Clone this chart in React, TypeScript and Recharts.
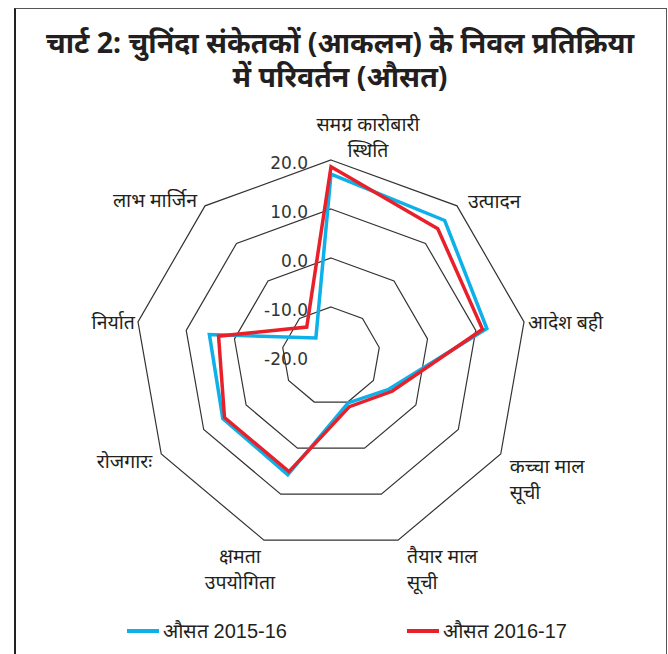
import React from "react";
import { RadarChart, Radar, PolarGrid, PolarAngleAxis, PolarRadiusAxis, Legend } from "recharts";

const categories = [
  "समग्र कारोबारी\nस्थिति",
  "उत्पादन",
  "आदेश बही",
  "कच्चा माल\nसूची",
  "तैयार माल\nसूची",
  "क्षमता\nउपयोगिता",
  "रोजगारः",
  "निर्यात",
  "लाभ मार्जिन",
];
const avg201516 = [17.1, 16.1, 12.3, -6.4, -9.8, 5.8, 5.5, 5.2, -15.2];
const avg201617 = [18.6, 13.9, 11.4, -5.6, -9.0, 5.1, 5.1, 3.3, -12.3];
const seriesNames = ["औसत 2015-16", "औसत 2016-17"];
const seriesColors = ["#0db0e8", "#e8202a"];
const titleLines = ["चार्ट 2: चुनिंदा संकेतकों (आकलन) के निवल प्रतिक्रिया", "में परिवर्तन (औसत)"];

const data = categories.map((c, i) => ({ name: c, a: avg201516[i], b: avg201617[i] }));

const CX = 331;
const CY = 356;
const R = 196;
const RAD = Math.PI / 180;
const labelFont = "'Noto Sans', 'Noto Sans Devanagari', 'DejaVu Sans', sans-serif";

// label placement around each outer vertex
const labelPos: { dx: number; dy: number; anchor: "start" | "middle" | "end" }[] = [
  { dx: 37, dy: -37, anchor: "middle" },
  { dx: 11, dy: -5, anchor: "start" },
  { dx: 4, dy: 0, anchor: "start" },
  { dx: 9, dy: 11, anchor: "start" },
  { dx: 9, dy: 15, anchor: "start" },
  { dx: -24, dy: 15, anchor: "middle" },
  { dx: -9, dy: 6, anchor: "end" },
  { dx: -3, dy: 0, anchor: "end" },
  { dx: -8, dy: -6, anchor: "end" },
];

const AngleTick = (props: any) => {
  const { payload } = props;
  const idx = categories.indexOf(payload.value);
  const ang = payload.coordinate;
  const vx = CX + R * Math.cos(-ang * RAD);
  const vy = CY + R * Math.sin(-ang * RAD);
  const p = labelPos[idx] || { dx: 0, dy: 0, anchor: "middle" };
  const lines = String(payload.value).split("\n");
  return (
    <g>
      {lines.map((l, i) => (
        <text
          key={i}
          x={vx + p.dx}
          y={vy + p.dy + i * 26}
          textAnchor={p.anchor}
          dominantBaseline="central"
          fontSize={19.5}
          fill="#231f20"
          fontFamily={labelFont}
        >
          {l}
        </text>
      ))}
    </g>
  );
};

const RadiusTick = (props: any) => {
  const { x, y, payload } = props;
  return (
    <text
      x={x - 23}
      y={y + 3}
      textAnchor="end"
      dominantBaseline="central"
      fontSize={17}
      fill="#333"
      fontFamily="'DejaVu Sans', sans-serif"
    >
      {Number(payload.value).toFixed(1)}
    </text>
  );
};

const renderLegend = (props: any) => {
  const items = props.payload || [];
  const lefts = [127, 407];
  return (
    <div style={{ position: "relative", height: 30 }}>
      {items.map((it: any, i: number) => (
        <div
          key={i}
          style={{
            position: "absolute",
            left: lefts[i],
            top: 0,
            display: "flex",
            alignItems: "center",
            fontFamily: "'Liberation Sans', Arial, sans-serif",
            fontSize: 20,
            color: "#231f20",
            whiteSpace: "nowrap",
          }}
        >
          <span style={{ display: "inline-block", width: 32, height: 4, background: it.color, marginRight: 4 }} />
          {it.value}
        </div>
      ))}
    </div>
  );
};

export default function App() {
  return (
    <div style={{ position: "absolute", left: 0, top: 0, width: 668, height: 654, background: "#fff", overflow: "hidden" }}>
      <div
        style={{
          position: "absolute",
          left: 14,
          top: 8,
          width: 650,
          height: 660,
          borderTop: "1px solid #555",
          borderRight: "1px solid #555",
          borderLeft: "2px solid #222",
        }}
      />
      {titleLines.map((t, i) => (
        <div
          key={i}
          style={{
            position: "absolute",
            left: 14,
            top: 25 + i * 34,
            width: 652,
            height: 34,
            textAlign: "center",
            fontFamily: "'Liberation Sans Narrow', 'Noto Sans', sans-serif",
            fontWeight: "bold",
            fontSize: 28.5,
            lineHeight: "34px",
            color: "#231f20",
            whiteSpace: "nowrap",
          }}
        >
          {t}
        </div>
      ))}
      <div style={{ position: "absolute", left: 0, top: 0 }}>
        <RadarChart width={668} height={654} cx={CX} cy={CY} outerRadius={R} data={data} margin={{ top: 0, right: 0, bottom: 0, left: 0 }}>
          <PolarGrid gridType="polygon" radialLines={false} stroke="#333" strokeWidth={1.2} />
          <PolarAngleAxis dataKey="name" tick={<AngleTick />} tickLine={false} axisLine={false} />
          <PolarRadiusAxis
            angle={90}
            domain={[-20, 20]}
            tickCount={5}
            axisLine={false}
            tickLine={false}
            tick={<RadiusTick />}
          />
          <Radar name={seriesNames[0]} dataKey="a" stroke={seriesColors[0]} strokeWidth={3.5} fill="none" fillOpacity={0} dot={false} isAnimationActive={false} />
          <Radar name={seriesNames[1]} dataKey="b" stroke={seriesColors[1]} strokeWidth={3.5} fill="none" fillOpacity={0} dot={false} isAnimationActive={false} />
          <Legend content={renderLegend} wrapperStyle={{ position: "absolute", left: 0, top: 617, width: 668 }} />
        </RadarChart>
      </div>
    </div>
  );
}
